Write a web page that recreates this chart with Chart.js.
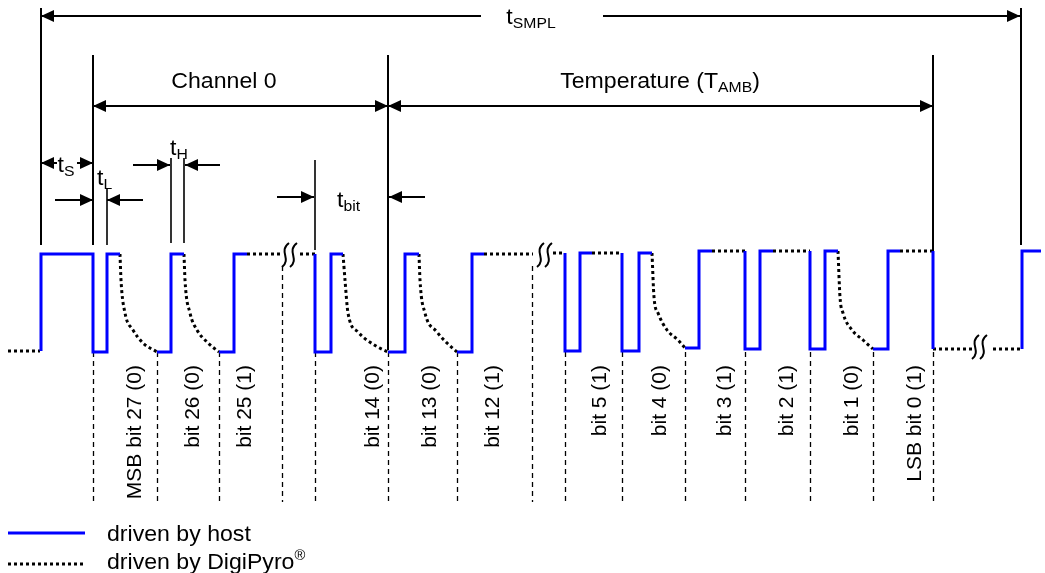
<!DOCTYPE html>
<html>
<head>
<meta charset="utf-8">
<script src="https://cdn.jsdelivr.net/npm/chart.js@4.4.0/dist/chart.umd.min.js"></script>
<style>
  html, body { margin: 0; padding: 0; background: #fff; }
  canvas { display: block; }
</style>
</head>
<body>
<canvas id="timing" width="1045" height="573"></canvas>
<script>
// waveform, in picture units (x right, y down)
const hostSegments = [
  [[41,351],[41,254],[93,254],[93,352],[107,352],[107,254],[120,254]],
  [[157,352],[171,352],[171,254],[184,254]],
  [[219,352],[234,352],[234,254],[247,254]],
  [[315,254],[315,352],[331,352],[331,254],[343,254]],
  [[388,352],[405,352],[405,254],[419,254]],
  [[457,352],[472,352],[472,254],[484,254]],
  [[565,253],[565,351],[580,351],[580,253],[592,253]],
  [[622,253],[622,351],[639,351],[639,253],[652,253]],
  [[685,348],[699,348],[699,251],[712,251]],
  [[745,251],[745,349],[760,349],[760,251],[773,251]],
  [[810,251],[810,349],[825,349],[825,251],[838,251]],
  [[873,349],[888,349],[888,251],[900,251]],
  [[933,251],[933,349]],
  [[1022,349],[1022,251],[1041,251]]
];

const sensorSegments = [
  [[8,351],[40,351]],
  [[120,254],[121,280],[125,313],[133,330],[143,343],[157,352]],
  [[184,254],[185,280],[190,313],[197,330],[208,343],[219,352]],
  [[247,254],[283,254]],
  [[300,254],[315,254]],
  [[343,254],[345,280],[348,313],[358,332],[376,346],[388,352]],
  [[419,254],[420,280],[425,313],[437,332],[447,343],[457,352]],
  [[484,254],[533,254]],
  [[553,253],[565,253]],
  [[592,253],[622,253]],
  [[652,253],[654,297],[658,313],[667,330],[678,340],[685,348]],
  [[712,251],[745,251]],
  [[773,251],[810,251]],
  [[838,251],[840,297],[843,313],[852,330],[863,340],[873,349]],
  [[900,251],[933,251]],
  [[933,349],[972,349]],
  [[993,349],[1022,349]]
];

const bitEdges = [93, 157, 219, 282, 315, 388, 457, 532, 565, 622, 685, 745, 810, 873, 933];
const bitLabels = ['MSB bit 27 (0)', 'bit 26 (0)', 'bit 25 (1)', 'bit 14 (0)', 'bit 13 (0)', 'bit 12 (1)',
                   'bit 5 (1)', 'bit 4 (0)', 'bit 3 (1)', 'bit 2 (1)', 'bit 1 (0)', 'LSB bit 0 (1)'];
const bitLabelX = [135, 193, 245, 373, 430, 493, 600, 660, 725, 787, 852, 915];

const breakMarks = [[291, 255], [546, 255], [981, 347]];

const FONT = '"Liberation Sans", Arial, sans-serif';

function toPoints(segs) {
  const out = [];
  segs.forEach((seg, i) => {
    if (i > 0) out.push({ x: seg[0][0], y: null });
    seg.forEach(p => out.push({ x: p[0], y: p[1] }));
  });
  return out;
}

function drawRich(ctx, parts, x, y, align) {
  const main = 22, sub = 15, sx = 1.05;
  let w = 0;
  parts.forEach(p => {
    ctx.font = (p[1] === 1 ? sub : (p[1] === 2 ? 14 : main)) + 'px ' + FONT;
    w += ctx.measureText(p[0]).width;
  });
  const start = align === 'center' ? x - w * sx / 2 : x;
  ctx.save();
  ctx.translate(start, y + main * 0.36);
  ctx.scale(sx, 1);
  ctx.textAlign = 'left';
  ctx.textBaseline = 'alphabetic';
  let cx = 0;
  parts.forEach(p => {
    const size = p[1] === 1 ? sub : (p[1] === 2 ? 14 : main);
    ctx.font = size + 'px ' + FONT;
    const dy = p[1] === 1 ? 4 : (p[1] === 2 ? -9 : 0);
    ctx.fillText(p[0], cx, dy);
    cx += ctx.measureText(p[0]).width;
  });
  ctx.restore();
}

function arrowHead(ctx, x, y, dir) {
  const len = 13, half = 6;
  ctx.beginPath();
  ctx.moveTo(x, y);
  ctx.lineTo(x - dir * len, y - half);
  ctx.lineTo(x - dir * len, y + half);
  ctx.closePath();
  ctx.fill();
}

const timingPlugin = {
  id: 'timing',
  beforeDatasetsDraw(chart) {
    const ctx = chart.ctx, sx = chart.scales.x, sy = chart.scales.y;
    const X = v => sx.getPixelForValue(v), Y = v => sy.getPixelForValue(v);
    ctx.save();
    ctx.strokeStyle = '#000';

    // solid boundary lines
    const bounds = [[41, 8, 245, 2], [1021, 8, 245, 2], [93, 55, 245, 2], [388, 55, 350, 2], [933, 55, 252, 2],
                    [107, 188, 245, 1.6], [171, 158, 243, 1.6], [184, 158, 243, 1.6], [315, 160, 250, 1.6]];
    bounds.forEach(b => {
      ctx.lineWidth = b[3];
      ctx.beginPath();
      ctx.moveTo(X(b[0]), Y(b[1]));
      ctx.lineTo(X(b[0]), Y(b[2]));
      ctx.stroke();
    });

    // dashed bit boundaries
    ctx.lineWidth = 1.3;
    ctx.setLineDash([5, 4]);
    bitEdges.forEach(e => {
      const top = (e === 282 || e === 532) ? 266 : 352;
      ctx.beginPath();
      ctx.moveTo(X(e) + 0.5, Y(top));
      ctx.lineTo(X(e) + 0.5, Y(502));
      ctx.stroke();
    });
    ctx.setLineDash([]);
    ctx.restore();
  },
  afterDatasetsDraw(chart) {
    const ctx = chart.ctx, sx = chart.scales.x, sy = chart.scales.y;
    const X = v => sx.getPixelForValue(v), Y = v => sy.getPixelForValue(v);
    ctx.save();
    ctx.strokeStyle = '#000';
    ctx.fillStyle = '#000';

    // arrows: [from, to, y, both ends]
    const arrows = [[481, 41, 16], [603, 1020, 16], [93, 388, 106, true], [388, 933, 106, true],
                    [57, 41, 163], [77, 93, 163], [55, 93, 200], [143, 107, 200],
                    [133, 170, 165], [220, 185, 165], [277, 314, 197], [425, 389, 197]];
    arrows.forEach(a => {
      const x1 = X(a[0]), x2 = X(a[1]), y = Y(a[2]);
      const dir = Math.sign(x2 - x1);
      ctx.lineWidth = 2;
      ctx.beginPath();
      ctx.moveTo(x1, y);
      ctx.lineTo(x2, y);
      ctx.stroke();
      arrowHead(ctx, x2, y, dir);
      if (a[3]) arrowHead(ctx, x1, y, -dir);
    });

    // break marks
    ctx.lineWidth = 2;
    breakMarks.forEach(m => {
      const cx = X(m[0]), cy = Y(m[1]);
      [-5, 3].forEach(off => {
        const x0 = cx + off - 4;
        ctx.beginPath();
        ctx.moveTo(x0, cy + 12);
        ctx.bezierCurveTo(x0 + 10, cy + 4, x0 - 4, cy - 4, x0 + 7, cy - 12);
        ctx.stroke();
      });
    });

    // texts
    const texts = [
      [[['t'], ['SMPL', 1]], 531, 16, 'center'],
      [[['Channel 0']], 224, 80, 'center'],
      [[['Temperature (T'], ['AMB', 1], [')']], 660, 80, 'center'],
      [[['t'], ['S', 1]], 66, 164, 'center'],
      [[['t'], ['L', 1]], 97, 177, 'left'],
      [[['t'], ['H', 1]], 170, 147, 'left'],
      [[['t'], ['bit', 1]], 337, 199, 'left']
    ];
    texts.forEach(t => drawRich(ctx, t[0], X(t[1]), Y(t[2]), t[3]));

    // rotated bit labels
    ctx.font = '21px ' + FONT;
    ctx.textAlign = 'right';
    ctx.textBaseline = 'middle';
    bitLabels.forEach((lab, i) => {
      ctx.save();
      ctx.translate(X(bitLabelX[i]), Y(365));
      ctx.rotate(-Math.PI / 2);
      ctx.fillText(lab, 0, 0);
      ctx.restore();
    });

    // legend from the datasets
    chart.data.datasets.forEach((ds, i) => {
      const y = Y(533 + i * 31);
      ctx.save();
      ctx.strokeStyle = ds.borderColor;
      ctx.lineWidth = ds.borderWidth;
      ctx.setLineDash(ds.borderDash || []);
      ctx.beginPath();
      ctx.moveTo(X(8), y);
      ctx.lineTo(X(85), y);
      ctx.stroke();
      ctx.restore();
      const parts = ds.label.split('®');
      const rich = [[parts[0]]];
      if (parts.length > 1) rich.push(['®', 2]);
      drawRich(ctx, rich, X(107), y - i * 3, 'left');
    });
    ctx.restore();
  }
};

new Chart(document.getElementById('timing'), {
  type: 'scatter',
  data: {
    datasets: [
      {
        label: 'driven by host',
        data: toPoints(hostSegments),
        showLine: true,
        borderColor: '#0000ff',
        borderWidth: 3,
        borderJoinStyle: 'miter',
        pointRadius: 0,
        tension: 0,
        spanGaps: false,
        clip: false
      },
      {
        label: 'driven by DigiPyro®',
        data: toPoints(sensorSegments),
        showLine: true,
        borderColor: '#000000',
        borderWidth: 3,
        borderDash: [3, 3],
        cubicInterpolationMode: 'monotone',
        pointRadius: 0,
        spanGaps: false,
        clip: false
      }
    ]
  },
  options: {
    responsive: false,
    animation: false,
    events: [],
    layout: { padding: 0 },
    scales: {
      x: { type: 'linear', min: 0, max: 1045, display: false },
      y: { type: 'linear', min: 0, max: 573, reverse: true, display: false }
    },
    plugins: { legend: { display: false }, tooltip: { enabled: false } }
  },
  plugins: [timingPlugin]
});
</script>
</body>
</html>
